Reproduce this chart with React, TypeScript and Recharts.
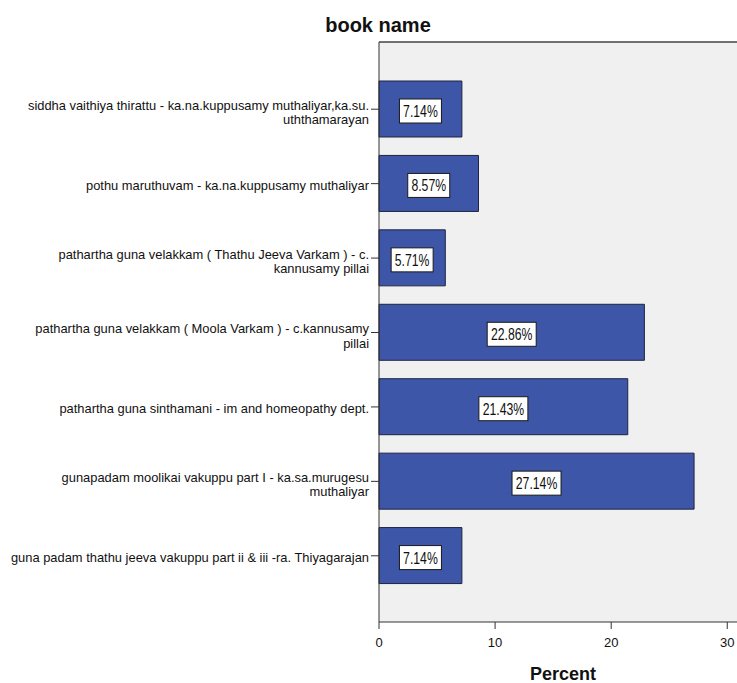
import React from 'react';
import { BarChart, Bar, XAxis, YAxis, CartesianGrid, LabelList } from 'recharts';

// book names, "\n" marks where the label wraps
const bookNames = [
  'siddha vaithiya thirattu - ka.na.kuppusamy muthaliyar,ka.su.\nuththamarayan',
  'pothu maruthuvam - ka.na.kuppusamy muthaliyar',
  'pathartha guna velakkam ( Thathu Jeeva Varkam ) - c.\nkannusamy pillai',
  'pathartha guna velakkam ( Moola Varkam ) - c.kannusamy\npillai',
  'pathartha guna sinthamani - im and homeopathy dept.',
  'gunapadam moolikai vakuppu part I - ka.sa.murugesu\nmuthaliyar',
  'guna padam thathu jeeva vakuppu part ii & iii -ra. Thiyagarajan',
];

const percents = [7.14, 8.57, 5.71, 22.86, 21.43, 27.14, 7.14];

const percentTicks = [0, 10, 20, 30];

const data = bookNames.map((name, i) => ({ name, percent: percents[i] }));

const FONT = '"Liberation Sans", Arial, sans-serif';
const BAR_FILL = '#3e56a8';

const BookTick = ({ x, y, payload }: any) => {
  const lines: string[] = String(payload.value).split('\n');
  return (
    <text x={x} y={y} textAnchor="end" fontFamily={FONT} fontSize={12.9} fill="#111">
      {lines.length === 1 ? (
        <tspan x={x} dy={6}>{lines[0]}</tspan>
      ) : (
        lines.map((line, i) => (
          <tspan key={i} x={x} dy={i === 0 ? 0.5 : 14.5}>{line}</tspan>
        ))
      )}
    </text>
  );
};

const ValueBox = ({ x, y, width, height, value }: any) => {
  const text = `${Number(value).toFixed(2)}%`;
  const cx = x + width / 2;
  const cy = y + height / 2;
  const boxW = text.length * 7 + 7;
  const boxH = 24;
  return (
    <g>
      <rect
        x={cx - boxW / 2}
        y={cy + 2 - boxH / 2}
        width={boxW}
        height={boxH}
        fill="#ffffff"
        stroke="#1a1a1a"
        strokeWidth={1}
      />
      <g transform={`translate(${cx},${cy + 8}) scale(0.72,1)`}>
        <text x={0} y={0} textAnchor="middle" fontFamily={FONT} fontSize={17} fill="#111">
          {text}
        </text>
      </g>
    </g>
  );
};

export default function App() {
  return (
    <div
      style={{
        position: 'absolute',
        left: 0,
        top: 0,
        width: 737,
        height: 683,
        overflow: 'hidden',
        background: '#ffffff',
      }}
    >
      <div
        style={{
          position: 'absolute',
          left: 278,
          top: 15,
          width: 200,
          textAlign: 'center',
          fontFamily: FONT,
          fontWeight: 'bold',
          fontSize: 20,
          lineHeight: '20px',
          color: '#111',
        }}
      >
        book name
      </div>
      <BarChart
        width={760}
        height={683}
        data={data}
        layout="vertical"
        margin={{ top: 41, right: 13, left: 0, bottom: 0 }}
      >
        <CartesianGrid horizontal={false} vertical={false} fill="#f0f0f0" />
        <XAxis
          xAxisId="top"
          orientation="top"
          type="number"
          domain={[0, 31.7]}
          height={1}
          tick={false}
          tickLine={false}
          axisLine={{ stroke: '#444', strokeWidth: 1.5 }}
        />
        <XAxis
          type="number"
          domain={[0, 31.7]}
          ticks={percentTicks}
          height={61}
          tickSize={7}
          tickMargin={9}
          axisLine={{ stroke: '#333' }}
          tickLine={{ stroke: '#333' }}
          tick={{ fill: '#111', fontSize: 13, fontFamily: FONT }}
          label={{
            value: 'Percent',
            position: 'insideBottom',
            offset: 3,
            fill: '#111',
            fontSize: 18,
            fontWeight: 'bold',
            fontFamily: FONT,
          }}
        />
        <YAxis
          type="category"
          dataKey="name"
          width={379}
          padding={{ top: 30, bottom: 29 }}
          tickSize={8}
          tickMargin={2}
          interval={0}
          axisLine={{ stroke: '#333' }}
          tickLine={{ stroke: '#333' }}
          tick={<BookTick />}
        />
        <Bar
          dataKey="percent"
          barSize={56}
          fill={BAR_FILL}
          stroke="#1e2340"
          strokeWidth={1}
          isAnimationActive={false}
        >
          <LabelList dataKey="percent" content={<ValueBox />} />
        </Bar>
      </BarChart>
    </div>
  );
}
